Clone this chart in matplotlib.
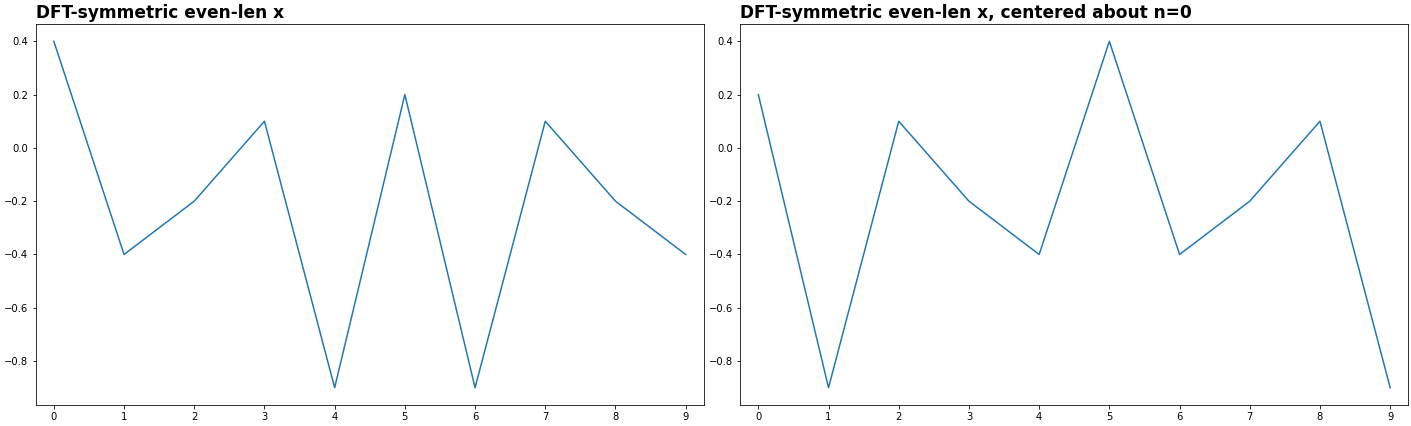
import matplotlib
matplotlib.use("Agg")
import matplotlib.pyplot as plt

n = list(range(10))
x_even = [0.4, -0.4, -0.2, 0.1, -0.9, 0.2, -0.9, 0.1, -0.2, -0.4]
x_centered = [0.2, -0.9, 0.1, -0.2, -0.4, 0.4, -0.4, -0.2, 0.1, -0.9]

titles = ["DFT-symmetric even-len x", "DFT-symmetric even-len x, centered about n=0"]
series = [x_even, x_centered]

fig = plt.figure(figsize=(1411 / 72, 426 / 72), dpi=72)
lefts = [35.5 / 1411, 740 / 1411]
for left, title, y in zip(lefts, titles, series):
    ax = fig.add_axes([left, 21 / 426, 668.5 / 1411, 381 / 426])
    ax.plot(n, y, color="#1f77b4", linewidth=1.5)
    ax.set_title(title, loc="left", fontsize=17, fontweight="bold")
    ax.set_xticks(n)
    ax.margins(x=0.029)

fig.savefig("out.png", dpi=72)
